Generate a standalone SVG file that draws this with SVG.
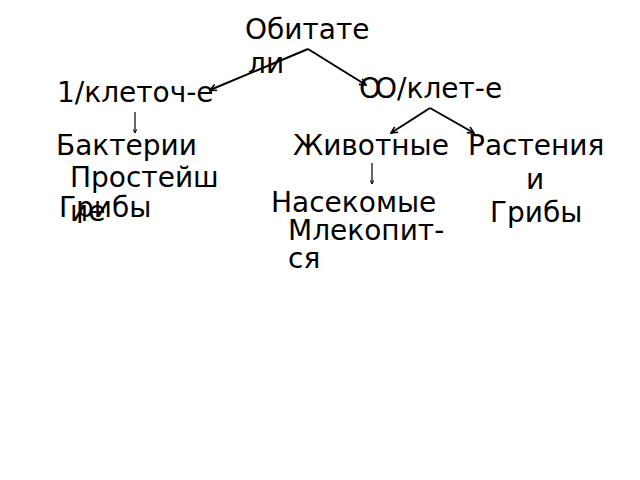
<svg xmlns="http://www.w3.org/2000/svg" width="640" height="480" viewBox="0 0 640 480">
<defs>
<style>
text{font-family:"DejaVu Sans","Noto Sans",sans-serif;font-size:28px;fill:#000}
.c{stroke:#000;stroke-width:2;fill:none}
.t{stroke:#000;stroke-width:1.2;fill:none}
</style>
<marker id="ah" viewBox="0 0 10 10" refX="9" refY="5" markerWidth="4" markerHeight="4" orient="auto">
<path d="M1,1 L9,5 L1,9" fill="none" stroke="#000" stroke-width="2"/>
</marker>
</defs>
<rect width="640" height="480" fill="#fff"/>
<g id="connectors">
<path class="c" d="M308,49 L210,90" marker-end="url(#ah)"/>
<path class="c" d="M308,49 L366,85" marker-end="url(#ah)"/>
<path class="c" d="M430,108 L391,133" marker-end="url(#ah)"/>
<path class="c" d="M430,108 L474,133" marker-end="url(#ah)"/>
<path class="t" d="M135,112 L135,133" marker-end="url(#ah)"/>
<path class="t" d="M372,163 L372,184" marker-end="url(#ah)"/>
</g>
<g id="root"><text x="245" y="39">Обитате</text><text x="248" y="73">ли</text></g>
<g id="uni"><text x="57" y="102">1/клеточ-е</text></g>
<g id="multi"><text x="359" y="98">О</text><text x="375" y="98">О/клет-е</text></g>
<g id="uni-list"><text x="56" y="155">Бактерии</text><text x="70" y="187">Простейш</text><text x="70" y="221">ие</text><text x="59" y="217">Грибы</text></g>
<g id="animals"><text x="293" y="155">Животные</text></g>
<g id="plants"><text x="468" y="155">Растения</text><text x="526" y="189">и</text><text x="490" y="222">Грибы</text></g>
<g id="animal-list"><text x="271" y="212">Насекомые</text><text x="288" y="240">Млекопит-</text><text x="288" y="268">ся</text></g>
</svg>
